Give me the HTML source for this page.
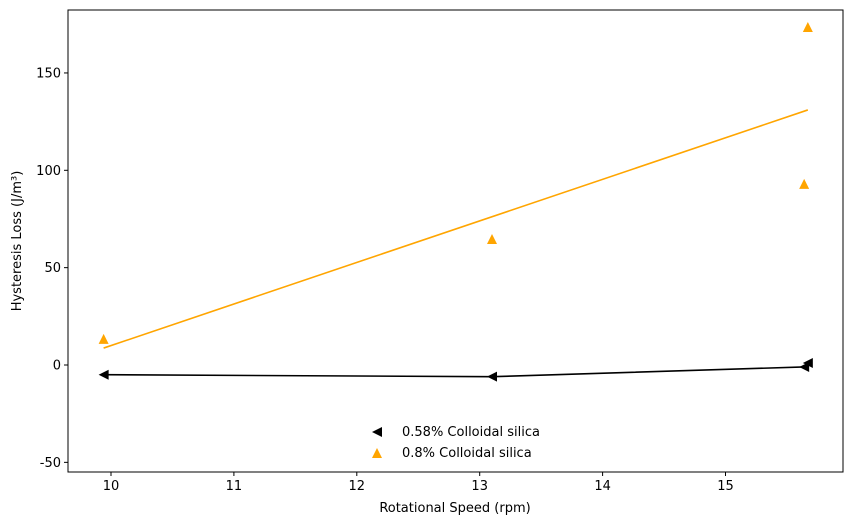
<!DOCTYPE html>
<html><head><meta charset="utf-8"><style>
body{margin:0;background:#fff;font-family:"Liberation Sans","DejaVu Sans",sans-serif;}
svg text{font-family:"DejaVu Sans","Liberation Sans",sans-serif;font-size:13px;fill:#000;}
</style></head><body>
<svg id="c" width="853" height="525" xmlns="http://www.w3.org/2000/svg"></svg>
<script>
const xTicks=[10,11,12,13,14,15];
const yTicks=[-50,0,50,100,150];
const xs=[9.94,13.10,15.64,15.67];
const blackVals=[-5,-6,-1,1];
const orangeVals=[13.4,64.7,93,173.6];
const fitX=[9.94,15.67];
const fitY=[8.7,131];
const L=68,R=843,T=10,B=472;
const X=v=>111+(v-10)*122.9;
const Y=v=>365-v*1.947;
const svg=document.getElementById('c');
const NS='http://www.w3.org/2000/svg';
function mk(t,a,p){const e=document.createElementNS(NS,t);for(const k in a)e.setAttribute(k,a[k]);(p||svg).appendChild(e);return e;}
let e;
e=mk('rect',{x:L,y:T,width:R-L,height:B-T,fill:'none',stroke:'#000','stroke-width':1});


xTicks.forEach(t=>{
 e=mk('line',{x1:X(t),x2:X(t),y1:B,y2:B+4,stroke:'#000'});
 
 
 e=mk('text',{x:X(t),y:B+18,'text-anchor':'middle'});e.textContent=t;
 
 
});
yTicks.forEach(t=>{
 e=mk('line',{x1:L-4,x2:L,y1:Y(t),y2:Y(t),stroke:'#000'});
 
 
 e=mk('text',{x:L-7,y:Y(t)+4.5,'text-anchor':'end'});e.textContent=t;
 
 
});
e=mk('text',{x:455,y:512,'text-anchor':'middle'});e.textContent='Rotational Speed (rpm)';


e=mk('text',{x:21,y:241,'text-anchor':'middle',transform:'rotate(-90 21 241)'});e.textContent='Hysteresis Loss (J/m³)';


e=mk('line',{x1:X(fitX[0]),y1:Y(fitY[0]),x2:X(fitX[1]),y2:Y(fitY[1]),stroke:'orange','stroke-width':1.6});


e=mk('polyline',{points:xs.slice(0,3).map((x,i)=>X(x)+','+Y(blackVals[i])).join(' '),fill:'none',stroke:'#000','stroke-width':1.6});


function tri(cx,cy,dir,col){
 const s=5;
 const p=dir==='left'?[[cx-s,cy],[cx+s,cy-s],[cx+s,cy+s]]:[[cx,cy-s],[cx-s,cy+s],[cx+s,cy+s]];
 return mk('polygon',{points:p.map(q=>q.join(',')).join(' '),fill:col});
}
xs.forEach((x,i)=>{
 e=tri(X(x),Y(blackVals[i]),'left','#000');
 
 
 e=tri(X(x),Y(orangeVals[i]),'up','orange');
 
 
});
e=tri(377,432,'left','#000');


e=mk('text',{x:402,y:436});e.textContent='0.58% Colloidal silica';


e=tri(377,453,'up','orange');


e=mk('text',{x:402,y:457});e.textContent='0.8% Colloidal silica';


</script>
</body></html>
